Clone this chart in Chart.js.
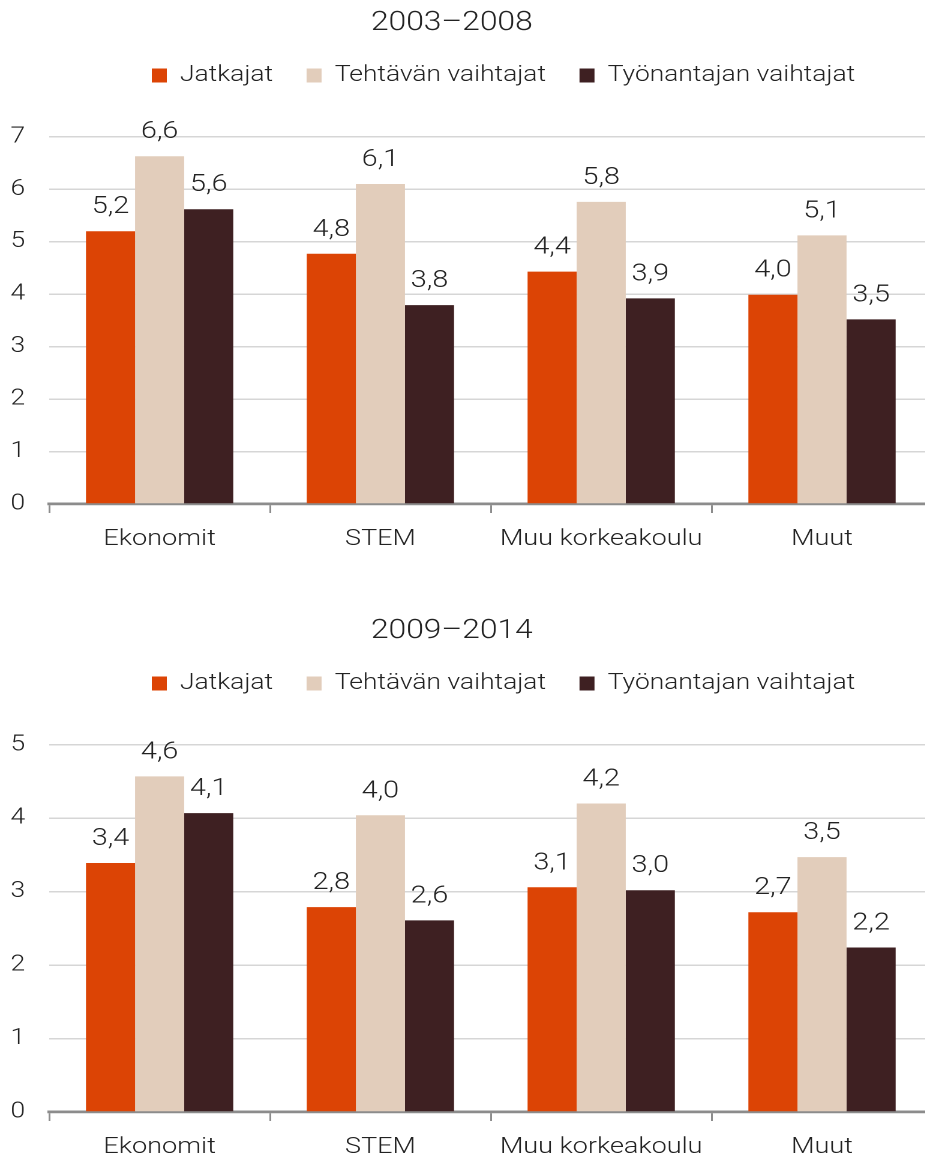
<!DOCTYPE html>
<html>
<head>
<meta charset="utf-8">
<script src="https://cdn.jsdelivr.net/npm/chart.js@4.4.1/dist/chart.umd.min.js"></script>
<style>
  html, body { margin: 0; padding: 0; background: #fff; overflow: hidden; width: 925px; height: 1160px; }
  /* the source image is stretched sideways, so each panel is drawn narrow and scaled */
  .panel { position: absolute; left: 0; width: 777px; height: 552px; transform: scaleX(1.2); transform-origin: 0 0; }
  #panel1 { top: 0; }
  #panel2 { top: 608px; }
</style>
</head>
<body>
<div class="panel" id="panel1"><canvas id="chart1" width="777" height="552"></canvas></div>
<div class="panel" id="panel2"><canvas id="chart2" width="777" height="552"></canvas></div>
<script>
const categories = ['Ekonomit', 'STEM', 'Muu korkeakoulu', 'Muut'];
const seriesNames = ['Jatkajat', 'Tehtävän vaihtajat', 'Työnantajan vaihtajat'];
const seriesColors = ['#dc4405', '#e2cdbb', '#3e2022'];

// 2003–2008
const title0308 = '2003–2008';
const jatkajat0308 = [5.20, 4.77, 4.43, 3.99];
const tehtava0308 = [6.63, 6.10, 5.76, 5.12];
const tyonantaja0308 = [5.62, 3.79, 3.92, 3.52];
const yMax0308 = 7;

// 2009–2014
const title0914 = '2009–2014';
const jatkajat0914 = [3.39, 2.79, 3.06, 2.72];
const tehtava0914 = [4.57, 4.04, 4.20, 3.47];
const tyonantaja0914 = [4.07, 2.61, 3.02, 2.24];
const yMax0914 = 5;

const FONT = 'Roboto';
const TEXT = '#222222';
const LEGEND_SIZE = 22;
const LEGEND_PAD = 28;
const LEGEND_BOX_H = 14;

const fmt = v => v.toFixed(1).replace('.', ',');

// value labels above the bars
const valueLabels = {
  id: 'valueLabels',
  afterDatasetsDraw(chart) {
    const ctx = chart.ctx;
    ctx.save();
    ctx.font = `300 24px ${FONT}`;
    ctx.fillStyle = TEXT;
    ctx.textAlign = 'center';
    ctx.textBaseline = 'alphabetic';
    chart.data.datasets.forEach((ds, i) => {
      chart.getDatasetMeta(i).data.forEach((bar, j) => {
        ctx.fillText(fmt(ds.data[j]), bar.x, bar.y - 18);
      });
    });
    ctx.restore();
  }
};

// put title and legend where the reference has them
const placeHeader = {
  id: 'placeHeader',
  afterLayout(chart) {
    const t = chart.titleBlock;
    if (t) {
      const dy = 23.5 - (t.top + t.height / 2);
      const dx = 376.5 - (t.left + t.right) / 2;
      t.top += dy; t.bottom += dy;
      t.left += dx; t.right += dx;
    }
    const lg = chart.legend;
    if (lg && lg.lineWidths) {
      const itemH = Math.max(LEGEND_SIZE, LEGEND_BOX_H);
      const dy = 75.5 - (lg.top + LEGEND_PAD + itemH / 2);
      const dx = 126.5 - (lg.left + LEGEND_PAD + lg.right - lg.lineWidths[0]) / 2;
      lg.top += dy; lg.bottom += dy;
      lg.left += dx; lg.right += dx;
    }
  }
};

function makeChart(canvasId, titleText, series, yMax) {
  const ctx = document.getElementById(canvasId);
  return new Chart(ctx, {
    type: 'bar',
    data: {
      labels: categories,
      datasets: series.map((data, i) => ({
        label: seriesNames[i],
        data: data,
        backgroundColor: seriesColors[i],
        borderWidth: 0,
        categoryPercentage: 0.667,
        barPercentage: 1.0
      }))
    },
    options: {
      responsive: false,
      devicePixelRatio: 2,
      animation: false,
      events: [],
      layout: {
        padding: { top: 45, left: 0, right: 0, bottom: 0 }
      },
      scales: {
        x: {
          ticks: {
            color: TEXT,
            font: { family: FONT, size: 22.5, weight: '300' },
            padding: 13,
            maxRotation: 0
          },
          grid: {
            display: true,
            drawOnChartArea: false,
            drawTicks: true,
            tickLength: 9,
            color: '#8c8c8c',
            lineWidth: 1.5,
            offset: true
          },
          border: { display: true, color: '#8c8c8c', width: 2.7 },
          afterFit(scale) { scale.height = 48; }
        },
        y: {
          min: 0,
          max: yMax,
          ticks: {
            stepSize: 1,
            color: TEXT,
            font: { family: FONT, size: 22, weight: '300' },
            padding: 20
          },
          grid: { color: '#d6d6d6', lineWidth: 1.5, drawTicks: false },
          border: { display: false },
          afterFit(scale) { scale.width = 41; }
        }
      },
      plugins: {
        title: {
          display: true,
          text: titleText,
          color: TEXT,
          font: { family: FONT, size: 26.5, weight: '300' },
          padding: 0
        },
        legend: {
          display: true,
          position: 'top',
          labels: {
            color: TEXT,
            font: { family: FONT, size: LEGEND_SIZE, weight: '300' },
            boxWidth: 12.5,
            boxHeight: LEGEND_BOX_H,
            padding: LEGEND_PAD
          }
        },
        tooltip: { enabled: false }
      }
    },
    plugins: [placeHeader, valueLabels]
  });
}

makeChart('chart1', title0308, [jatkajat0308, tehtava0308, tyonantaja0308], yMax0308);
makeChart('chart2', title0914, [jatkajat0914, tehtava0914, tyonantaja0914], yMax0914);
</script>
</body>
</html>
